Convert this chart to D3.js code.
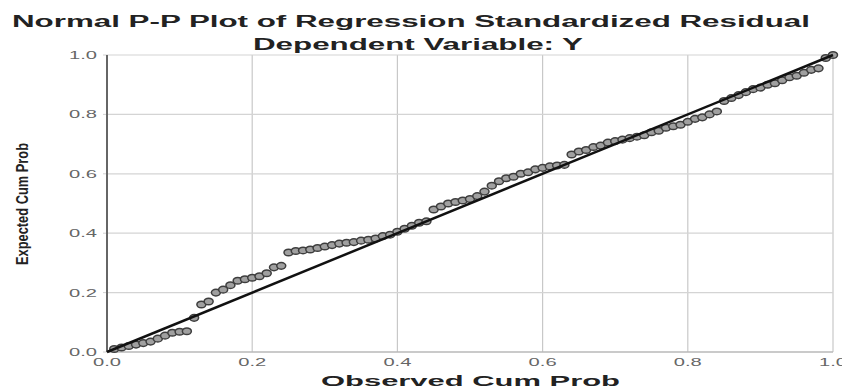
<!DOCTYPE html>
<html><head><meta charset="utf-8">
<script src="https://cdn.jsdelivr.net/npm/d3@7/dist/d3.min.js"></script>
<style>body{margin:0;background:#fff;}svg{display:block;}</style>
</head><body>
<svg id="c" width="842" height="389"></svg>
<script>
const title = "Normal P-P Plot of Regression Standardized Residual";
const subtitle = "Dependent Variable: Y";
const xLabel = "Observed Cum Prob";
const yLabel = "Expected Cum Prob";
const tickValues = [0, 0.2, 0.4, 0.6, 0.8, 1.0];
const tickLabels = ["0.0", "0.2", "0.4", "0.6", "0.8", "1.0"];
const observed = [0.01,0.02,0.03,0.04,0.05,0.06,0.07,0.08,0.09,0.10,
0.11,0.12,0.13,0.14,0.15,0.16,0.17,0.18,0.19,0.20,
0.21,0.22,0.23,0.24,0.25,0.26,0.27,0.28,0.29,0.30,
0.31,0.32,0.33,0.34,0.35,0.36,0.37,0.38,0.39,0.40,
0.41,0.42,0.43,0.44,0.45,0.46,0.47,0.48,0.49,0.50,
0.51,0.52,0.53,0.54,0.55,0.56,0.57,0.58,0.59,0.60,
0.61,0.62,0.63,0.64,0.65,0.66,0.67,0.68,0.69,0.70,
0.71,0.72,0.73,0.74,0.75,0.76,0.77,0.78,0.79,0.80,
0.81,0.82,0.83,0.84,0.85,0.86,0.87,0.88,0.89,0.90,
0.91,0.92,0.93,0.94,0.95,0.96,0.97,0.98,0.99,1.00];
const expected = [0.010,0.015,0.020,0.025,0.030,0.035,0.045,0.055,0.065,0.068,
0.070,0.115,0.160,0.170,0.200,0.210,0.225,0.240,0.245,0.250,
0.255,0.265,0.285,0.290,0.335,0.340,0.342,0.345,0.350,0.355,
0.360,0.365,0.368,0.370,0.375,0.378,0.382,0.390,0.395,0.405,
0.415,0.425,0.435,0.440,0.480,0.490,0.500,0.505,0.510,0.515,
0.525,0.540,0.560,0.575,0.585,0.590,0.600,0.605,0.615,0.620,
0.625,0.628,0.630,0.665,0.675,0.680,0.690,0.695,0.705,0.710,
0.715,0.720,0.725,0.730,0.740,0.745,0.755,0.760,0.765,0.775,
0.785,0.790,0.800,0.810,0.845,0.855,0.865,0.875,0.885,0.890,
0.900,0.905,0.915,0.925,0.930,0.940,0.950,0.955,0.990,1.000];
const refLine = [0, 1];

const svg = d3.select("#c");
const x = d3.scaleLinear().domain([0, 1]).range([107, 833]);
const y = d3.scaleLinear().domain([0, 1]).range([352, 55]);

// gridlines
svg.append("g").selectAll("line").data(tickValues.slice(1)).join("line")
  .attr("x1", d => x(d)).attr("x2", d => x(d)).attr("y1", y(0)).attr("y2", y(1))
  .attr("stroke", "#c8c8c8").attr("stroke-width", 1.2);
svg.append("g").selectAll("line").data(tickValues.slice(1)).join("line")
  .attr("x1", x(0)).attr("x2", x(1)).attr("y1", d => y(d)).attr("y2", d => y(d))
  .attr("stroke", "#d4d4d4").attr("stroke-width", 1.2);

// bottom axis line
svg.append("line").attr("x1", x(0)).attr("x2", x(1)).attr("y1", y(0)).attr("y2", y(0))
  .attr("stroke", "#b8b8b8").attr("stroke-width", 1.5);

// left ticks
svg.append("g").selectAll("line").data(tickValues).join("line")
  .attr("x1", x(0) - 4).attr("x2", x(0)).attr("y1", d => y(d)).attr("y2", d => y(d))
  .attr("stroke", "#d0d0d0");

// left axis line
svg.append("line").attr("x1", x(0)).attr("x2", x(0)).attr("y1", y(0)).attr("y2", y(1))
  .attr("stroke", "#666").attr("stroke-width", 2);

// tick labels
svg.append("g").selectAll("text").data(tickValues).join("text")
  .attr("x", 97).attr("y", d => y(d) + 4)
  .attr("text-anchor", "end")
  .attr("textLength", 28).attr("lengthAdjust", "spacingAndGlyphs")
  .attr("font-family", "Liberation Sans, Arial, sans-serif").attr("font-size", 11)
  .attr("fill", "#666")
  .text((d, i) => tickLabels[i]);
svg.append("g").selectAll("text").data(tickValues).join("text")
  .attr("x", d => x(d) - 14).attr("y", 366)
  .attr("textLength", 28).attr("lengthAdjust", "spacingAndGlyphs")
  .attr("font-family", "Liberation Sans, Arial, sans-serif").attr("font-size", 11)
  .attr("fill", "#666")
  .text((d, i) => tickLabels[i]);

// points
svg.append("g").selectAll("ellipse").data(observed).join("ellipse")
  .attr("cx", (d) => x(d)).attr("cy", (d, i) => y(expected[i]))
  .attr("rx", 4.5).attr("ry", 3.3)
  .attr("fill", "#a0a0a0").attr("stroke", "#3e3e3e").attr("stroke-width", 1.5);

// reference line
svg.append("line")
  .attr("x1", x(refLine[0])).attr("y1", y(refLine[0]))
  .attr("x2", x(refLine[1])).attr("y2", y(refLine[1]))
  .attr("stroke", "#111").attr("stroke-width", 2.5);

// titles
svg.append("text").attr("x", 12).attr("y", 27)
  .attr("textLength", 798).attr("lengthAdjust", "spacingAndGlyphs")
  .attr("font-family", "Liberation Sans, Arial, sans-serif").attr("font-weight", "bold")
  .attr("font-size", 16).attr("fill", "#222").text(title);
svg.append("text").attr("x", 253).attr("y", 50)
  .attr("textLength", 330).attr("lengthAdjust", "spacingAndGlyphs")
  .attr("font-family", "Liberation Sans, Arial, sans-serif").attr("font-weight", "bold")
  .attr("font-size", 16).attr("fill", "#222").text(subtitle);
svg.append("text").attr("x", 321).attr("y", 386)
  .attr("textLength", 299).attr("lengthAdjust", "spacingAndGlyphs")
  .attr("font-family", "Liberation Sans, Arial, sans-serif").attr("font-weight", "bold")
  .attr("font-size", 15).attr("fill", "#222").text(xLabel);
svg.append("text")
  .attr("transform", "translate(28,265) rotate(-90)")
  .attr("textLength", 122).attr("lengthAdjust", "spacingAndGlyphs")
  .attr("font-family", "Liberation Sans, Arial, sans-serif").attr("font-weight", "bold")
  .attr("font-size", 17).attr("fill", "#222").text(yLabel);
</script>
</body></html>
